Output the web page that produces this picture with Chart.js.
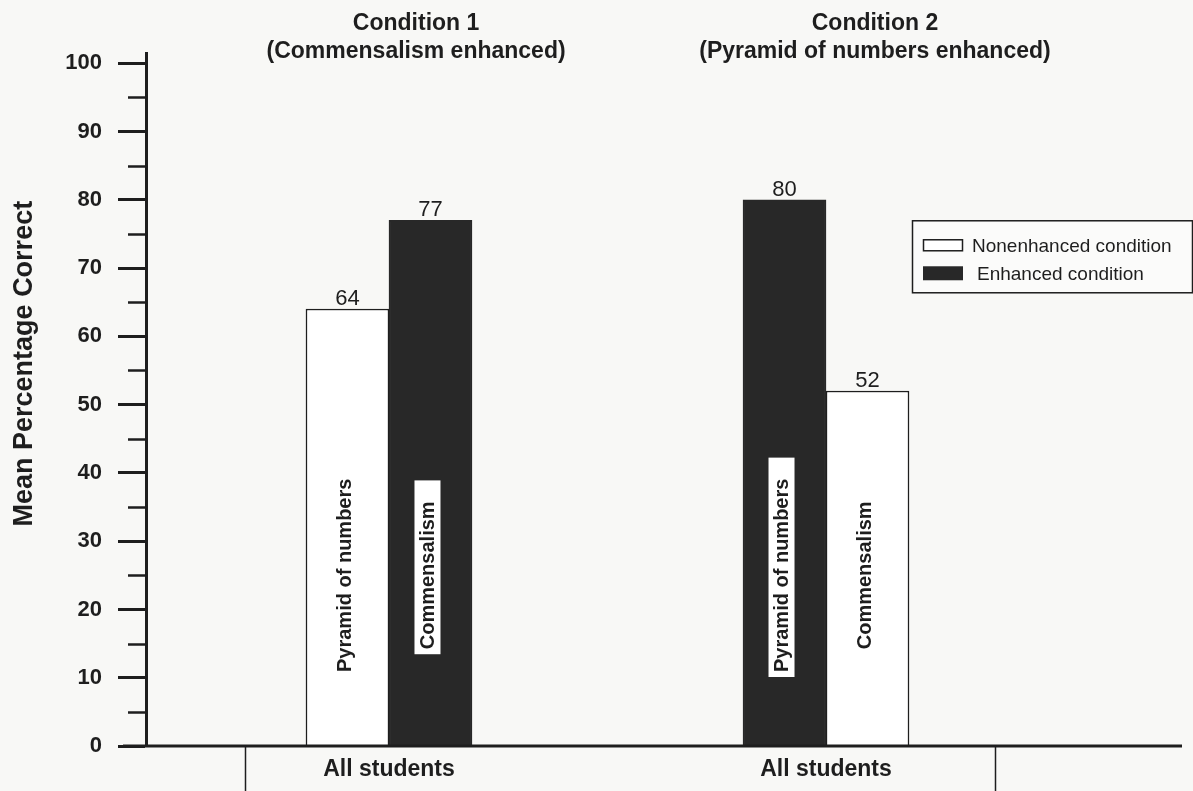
<!DOCTYPE html>
<html>
<head>
<meta charset="utf-8">
<script src="https://cdn.jsdelivr.net/npm/chart.js@4.4.1/dist/chart.umd.min.js"></script>
<style>
  html, body { margin: 0; padding: 0; background: #f8f8f6; }
  #wrap { width: 1193px; height: 791px; position: relative; }
</style>
</head>
<body>
<div id="wrap"><canvas id="chart" width="1193" height="791"></canvas></div>
<script>
// Mean percentage correct, by condition
const conditions = ['Condition 1', 'Condition 2'];
const conditionNotes = ['(Commensalism enhanced)', '(Pyramid of numbers enhanced)'];
const groupLabels = ['All students', 'All students'];
const seriesNames = ['Nonenhanced condition', 'Enhanced condition'];
const nonenhanced = [64, 52];
const enhanced = [77, 80];
const nonenhancedTopic = ['Pyramid of numbers', 'Commensalism'];
const enhancedTopic = ['Commensalism', 'Pyramid of numbers'];
const enhancedFirst = [false, true];
const yMinorTicks = [5, 15, 25, 35, 45, 55, 65, 75, 85, 95];
const yTitle = 'Mean Percentage Correct';

const INK = '#1e1e1e';
const DARK = '#282828';
const LIGHT = '#ffffff';
const FONT = '"Liberation Sans", Arial, Helvetica, sans-serif';

// Bars are placed left/right inside each condition; which series sits left depends on the condition.
function slot(side) {
  return conditions.map((c, i) => {
    const isEnh = enhancedFirst[i] === (side === 0);
    return {
      x: i,
      y: isEnh ? enhanced[i] : nonenhanced[i],
      enh: isEnh,
      topic: isEnh ? enhancedTopic[i] : nonenhancedTopic[i]
    };
  });
}

function barDataset(side) {
  return {
    label: side === 0 ? 'left' : 'right',
    data: slot(side),
    backgroundColor: ctx => (ctx.raw && ctx.raw.enh ? DARK : LIGHT),
    borderColor: ctx => (ctx.raw && ctx.raw.enh ? DARK : INK),
    borderWidth: 1.5,
    borderSkipped: 'bottom',
    barThickness: 83
  };
}

const annotate = {
  id: 'annotate',
  afterDraw(chart, args, opts) {
    const { ctx, chartArea: area, scales: { x, y } } = chart;
    ctx.save();

    // minor ticks on the value axis
    ctx.strokeStyle = INK;
    ctx.lineWidth = 2.5;
    yMinorTicks.forEach(v => {
      const py = Math.round(y.getPixelForValue(v)) + 0.5;
      ctx.beginPath();
      ctx.moveTo(area.left - 18, py);
      ctx.lineTo(area.left, py);
      ctx.stroke();
    });

    // baseline
    ctx.lineWidth = 3;
    ctx.beginPath();
    ctx.moveTo(area.left - 23, area.bottom);
    ctx.lineTo(area.right + 2, area.bottom);
    ctx.stroke();

    // cell borders under the baseline
    ctx.lineWidth = 1.5;
    opts.cellEdges.forEach(v => {
      const px = Math.round(x.getPixelForValue(v)) + 0.5;
      ctx.beginPath();
      ctx.moveTo(px, area.bottom);
      ctx.lineTo(px, chart.height);
      ctx.stroke();
    });

    // value-axis title
    ctx.save();
    ctx.translate(opts.yTitleX, y.getPixelForValue(opts.yTitleCenter));
    ctx.rotate(-Math.PI / 2);
    ctx.fillStyle = INK;
    ctx.font = 'bold 27px ' + FONT;
    ctx.textAlign = 'center';
    ctx.textBaseline = 'middle';
    ctx.fillText(yTitle, 0, 0);
    ctx.restore();

    // value labels and topic labels
    chart.data.datasets.forEach((ds, d) => {
      chart.getDatasetMeta(d).data.forEach((bar, i) => {
        const raw = ds.data[i];
        ctx.fillStyle = INK;
        ctx.font = '22px ' + FONT;
        ctx.textAlign = 'center';
        ctx.textBaseline = 'alphabetic';
        ctx.fillText(String(raw.y), bar.x, bar.y - 4);

        // rotated topic text inside the bar
        ctx.font = 'bold 20px ' + FONT;
        const w = ctx.measureText(raw.topic).width;
        const cy = y.getPixelForValue(opts.topicCenter);
        const cx = bar.x - 3;
        ctx.save();
        ctx.translate(cx, cy);
        ctx.rotate(-Math.PI / 2);
        if (raw.enh) {
          ctx.fillStyle = '#ffffff';
          ctx.fillRect(-w / 2 - 5, -13, w + 26, 26);
        }
        ctx.fillStyle = INK;
        ctx.textAlign = 'left';
        ctx.textBaseline = 'middle';
        ctx.fillText(raw.topic, -w / 2, 1);
        ctx.restore();
      });
    });

    // condition headings
    ctx.fillStyle = INK;
    ctx.textAlign = 'center';
    ctx.textBaseline = 'middle';
    ctx.font = 'bold 23px ' + FONT;
    conditions.forEach((c, i) => {
      const px = x.getPixelForValue(i + opts.headingShift[i]);
      ctx.fillText(c, px, 24);
      ctx.fillText(conditionNotes[i], px, 52);
    });

    // legend
    const L = opts.legend;
    const lx = area.right + L.dx, ly = y.getPixelForValue(L.top);
    ctx.lineWidth = 1.5;
    ctx.strokeStyle = INK;
    ctx.fillStyle = '#fbfbfa';
    ctx.fillRect(lx, ly, L.w, L.h);
    ctx.strokeRect(lx + 0.5, ly + 0.5, L.w, L.h);
    ctx.font = '19px ' + FONT;
    ctx.textAlign = 'left';
    ctx.textBaseline = 'middle';
    seriesNames.forEach((name, k) => {
      const rowY = ly + 25 + k * 28;
      if (k === 0) {
        ctx.fillStyle = LIGHT;
        ctx.fillRect(lx + 11, rowY - 6, 40, 12);
        ctx.strokeRect(lx + 11.5, rowY - 5.5, 39, 11);
      } else {
        ctx.fillStyle = DARK;
        ctx.fillRect(lx + 11, rowY - 7, 40, 14);
      }
      ctx.fillStyle = INK;
      ctx.fillText(name, lx + 60 + k * 5, rowY + 1);
    });

    ctx.restore();
  }
};

new Chart(document.getElementById('chart'), {
  type: 'bar',
  data: { datasets: [barDataset(0), barDataset(1)] },
  options: {
    responsive: false,
    animation: false,
    layout: { padding: { top: 53, right: 13, left: 0, bottom: 0 } },
    plugins: {
      legend: { display: false },
      tooltip: { enabled: false },
      annotate: {
        cellEdges: [-0.33, 1.387],
        headingShift: [0.062, 0.112],
        topicCenter: 25,
        yTitleX: 25,
        yTitleCenter: 56,
        legend: { dx: -268, top: 77, w: 280, h: 72 }
      }
    },
    scales: {
      x: {
        type: 'linear',
        offset: false,
        min: -0.556,
        max: 1.81,
        grid: { display: false, drawTicks: false, offset: false },
        border: { display: false },
        afterBuildTicks: s => { s.ticks = conditions.map((c, i) => ({ value: i })); },
        afterFit: s => { s.height = 45; },
        ticks: {
          padding: 10,
          color: INK,
          font: { family: FONT, size: 23, weight: 'bold' },
          callback: (v, i) => groupLabels[i]
        }
      },
      y: {
        min: 0,
        max: 101.5,
        afterFit: s => { s.width = 146; },
        grid: { drawOnChartArea: false, tickLength: 28, tickWidth: 3, tickColor: INK },
        border: { display: true, width: 3, color: INK },
        ticks: {
          stepSize: 10,
          includeBounds: false,
          padding: 16,
          color: INK,
          font: { family: FONT, size: 22, weight: 'bold' }
        },
        title: { display: false }
      }
    }
  },
  plugins: [annotate]
});
</script>
</body>
</html>
